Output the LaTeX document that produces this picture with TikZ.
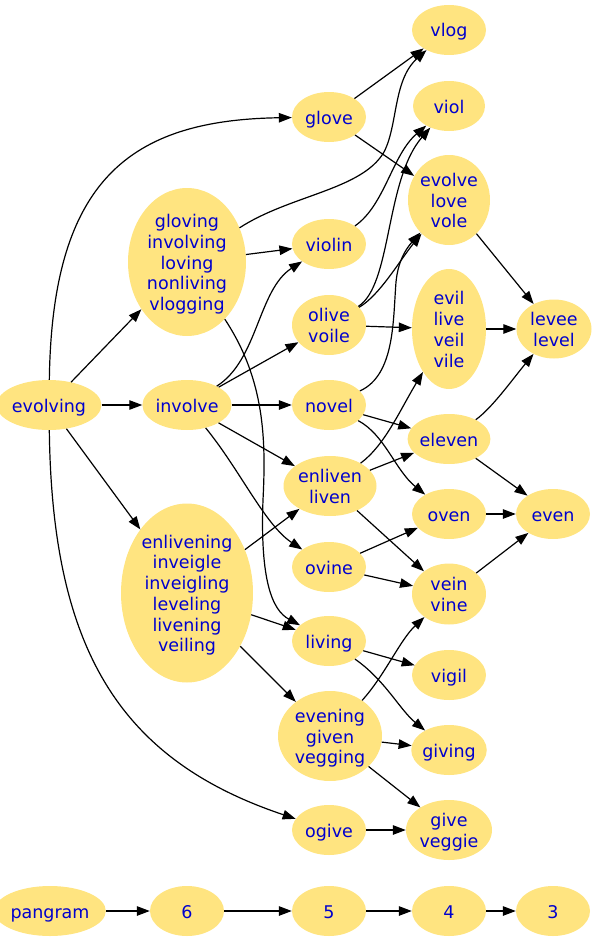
\documentclass[tikz,border=0pt]{standalone}
\usepackage{fontspec}
\setmainfont{DejaVu Sans}
\usetikzlibrary{shapes.geometric,arrows.meta}
\definecolor{nf}{RGB}{255,228,128}
\definecolor{nt}{RGB}{0,0,205}
\newcommand{\wordfont}{\fontsize{17.5}{20.7}\selectfont}
\begin{document}
\begin{tikzpicture}[x=1pt,y=-1pt,
  w/.style={ellipse, fill=nf, text=nt, draw=none, inner sep=0pt,
    minimum width=74pt, minimum height=50pt, align=center, font=\wordfont,
    text height=15pt, text depth=1pt},
  l2/.style={text height=35.7pt},
  l3/.style={text height=56.4pt},
  l4/.style={text height=77.1pt},
  l5/.style={text height=97.8pt},
  l6/.style={text height=118.5pt},
  e/.style={-{Triangle[length=13pt,width=9.5pt]}, line width=1.2pt, black}]
\useasboundingbox (0,0) rectangle (597,942);
% nodes
\node[w] (vlog) at (449,30) {vlog};
\node[w, minimum width=72pt] (viol) at (449,106) {viol};
\node[w] (glove) at (329,117) {glove};
\node[w, l3, minimum width=82pt, minimum height=90pt] (evolve) at (449,200) {evolve\\love\\vole};
\node[w, l5, minimum width=118pt, minimum height=148pt] (gloving) at (187,262) {gloving\\involving\\loving\\nonliving\\vlogging};
\node[w] (violin) at (329,244) {violin};
\node[w, l2, minimum height=60pt] (olive) at (329,325) {olive\\voile};
\node[w, l4, minimum height=120pt] (evil) at (449,329) {evil\\live\\veil\\vile};
\node[w, l2, minimum width=75pt, minimum height=59pt] (levee) at (554,329) {levee\\level};
\node[w, minimum width=84pt] (evolving) at (49,405) {evolving};
\node[w, minimum width=76pt] (involve) at (187,405) {involve};
\node[w] (novel) at (329,405) {novel};
\node[w] (eleven) at (449,439) {eleven};
\node[w, l2, minimum width=93pt, minimum height=60pt] (enliven) at (330,486) {enliven\\liven};
\node[w] (oven) at (449,514) {oven};
\node[w] (even) at (553,514) {even};
\node[w, l6, minimum width=132pt, minimum height=179pt] (enlivening) at (187,593) {enlivening\\inveigle\\inveigling\\leveling\\livening\\veiling};
\node[w] (ovine) at (329,567) {ovine};
\node[w, l2, minimum height=61pt] (vein) at (449,594) {vein\\vine};
\node[w] (living) at (329,641) {living};
\node[w] (vigil) at (449,675) {vigil};
\node[w, l3, minimum width=104pt, minimum height=90pt] (evening) at (330,736) {evening\\given\\vegging};
\node[w] (giving) at (449,750) {giving};
\node[w] (ogive) at (329,830) {ogive};
\node[w, l2, minimum width=86pt, minimum height=60pt] (give) at (449,830) {give\\veggie};
\node[w, minimum width=90pt] (pangram) at (50,911) {pangram};
\node[w] (n6) at (187,911) {6};
\node[w] (n5) at (329,911) {5};
\node[w] (n4) at (449,911) {4};
\node[w] (n3) at (553,911) {3};
% edges from evolving
\draw[e] (evolving) .. controls (52,180) and (130,120) .. (glove);
\draw[e] (evolving) -- (gloving);
\draw[e] (evolving) -- (involve);
\draw[e] (evolving) -- (enlivening);
\draw[e] (evolving) .. controls (52,650) and (120,760) .. (ogive);
% gloving
\draw[e] (gloving) .. controls (290,195) and (362,190) .. (384,152) .. controls (398,125) and (393,80) .. (vlog);
\draw[e] (gloving) -- (violin);
\draw[e] (gloving) .. controls (265,380) and (266,440) .. (263,500) .. controls (260,580) and (272,610) .. (living);
% glove
\draw[e] (glove) -- (vlog);
\draw[e] (glove) -- (evolve);
% violin, olive, novel
\draw[e] (violin) .. controls (385,205) and (392,155) .. (viol);
\draw[e] (olive) .. controls (392,285) and (385,180) .. (viol);
\draw[e] (olive) .. controls (380,295) and (400,260) .. (evolve);
\draw[e] (olive) -- (evil);
\draw[e] (novel) .. controls (395,375) and (393,320) .. (396,282) .. controls (398,262) and (405,250) .. (evolve);
\draw[e] (novel) -- (eleven);
\draw[e] (novel) .. controls (385,435) and (395,470) .. (oven);
% involve
\draw[e] (involve) .. controls (258,360) and (258,290) .. (violin);
\draw[e] (involve) -- (olive);
\draw[e] (involve) -- (novel);
\draw[e] (involve) -- (enliven);
\draw[e] (involve) .. controls (240,470) and (265,525) .. (ovine);
% enliven
\draw[e] (enliven) .. controls (385,445) and (400,410) .. (evil);
\draw[e] (enliven) -- (eleven);
\draw[e] (enliven) -- (vein);
% enlivening
\draw[e] (enlivening) -- (enliven);
\draw[e] (enlivening) -- (living);
\draw[e] (enlivening) -- (evening);
% ovine
\draw[e] (ovine) -- (oven);
\draw[e] (ovine) -- (vein);
% living, evening, ogive
\draw[e] (living) -- (vigil);
\draw[e] (living) .. controls (385,680) and (400,710) .. (giving);
\draw[e] (evening) .. controls (385,675) and (400,640) .. (vein);
\draw[e] (evening) -- (giving);
\draw[e] (evening) -- (give);
\draw[e] (ogive) -- (give);
% right column
\draw[e] (evolve) -- (levee);
\draw[e] (evil) -- (levee);
\draw[e] (eleven) .. controls (492,408) and (512,380) .. (levee);
\draw[e] (eleven) -- (even);
\draw[e] (oven) -- (even);
\draw[e] (vein) -- (even);
% bottom chain
\draw[e] (pangram) -- (n6);
\draw[e] (n6) -- (n5);
\draw[e] (n5) -- (n4);
\draw[e] (n4) -- (n3);
\end{tikzpicture}
\end{document}
